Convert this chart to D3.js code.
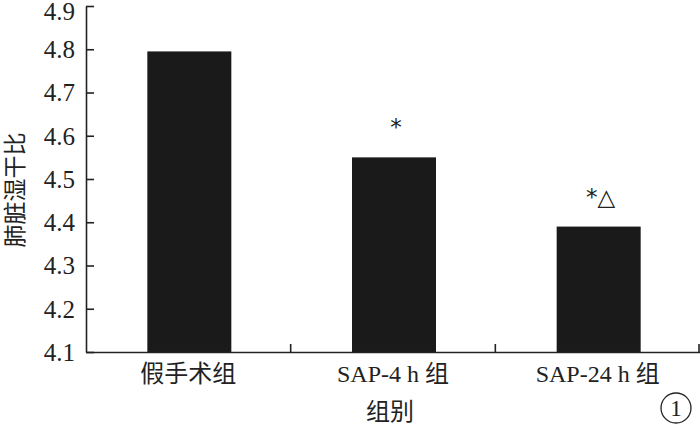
<!DOCTYPE html>
<html><head><meta charset="utf-8">
<script src="https://cdn.jsdelivr.net/npm/d3@7"></script>
<style>body{margin:0;background:#fff}svg{display:block}</style>
</head><body>
<svg id="c" width="700" height="427"></svg>
<script>
const categories = ["假手术组", "SAP-4 h 组", "SAP-24 h 组"];
const values = [4.795, 4.55, 4.39];
const marks = ["", "*", "*△"];
const yTicks = [4.1, 4.2, 4.3, 4.4, 4.5, 4.6, 4.7, 4.8, 4.9];

const svg = d3.select("#c");
const font = "'Liberation Serif','Times New Roman','Noto Sans CJK SC',serif";
const x = d3.scaleBand().domain(categories).range([86, 700]).paddingInner(0).paddingOuter(0);
const y = d3.scaleLinear().domain([4.1, 4.9]).range([352, 6]);
const barW = 84;
const col = "#1a1a1a";

// bars
svg.selectAll("rect.bar").data(categories).enter().append("rect")
  .attr("x", d => x(d) + x.bandwidth()/2 - barW/2 + 1)
  .attr("width", barW)
  .attr("y", (d,i) => y(values[i]))
  .attr("height", (d,i) => y(4.1) - y(values[i]))
  .attr("fill", col);

// y axis
const yAxis = d3.axisLeft(y).tickValues(yTicks).tickFormat(d3.format(".1f")).tickSizeInner(-8).tickSizeOuter(0).tickPadding(11);
const gy = svg.append("g").attr("transform", "translate(86,0)").call(yAxis);
gy.select(".domain").attr("stroke", "#222").attr("stroke-width", 1.6);
gy.selectAll(".tick line").attr("stroke", "#222").attr("stroke-width", 1.6);
gy.selectAll(".tick text").attr("font-family", font).attr("font-size", 25).attr("fill", "#222")
  .attr("dy", d => d === 4.9 ? "0.52em" : "0.33em");

// x axis
const xAxis = d3.axisBottom(x).tickSize(0).tickPadding(12);
const gx = svg.append("g").attr("transform", "translate(0,352)").call(xAxis);
gx.select(".domain").attr("stroke", "#222").attr("stroke-width", 1.6);
gx.selectAll(".tick text").attr("font-family", font).attr("font-size", 24).attr("fill", "#222").attr("dy", "0.75em");
// boundary ticks between bands
const bounds = categories.slice(1).map(c => x(c)).concat([x.range()[1] - 1]);
svg.append("g").selectAll("line").data(bounds).enter().append("line")
  .attr("x1", d => d).attr("x2", d => d).attr("y1", 352).attr("y2", 344)
  .attr("stroke", "#222").attr("stroke-width", 1.6);

// significance marks
svg.append("g").selectAll("text").data(categories).enter().append("text")
  .attr("x", d => x(d) + x.bandwidth()/2 + 3)
  .attr("y", (d,i) => y(values[i]) - 22)
  .attr("text-anchor", "middle")
  .attr("font-family", "'DejaVu Sans',sans-serif").attr("font-size", 23).attr("fill", "#222")
  .text((d,i) => marks[i]);

// axis titles
svg.append("text").attr("transform", "translate(23,190) rotate(-90)")
  .attr("text-anchor", "middle").attr("font-family", font).attr("font-size", 23).attr("fill", "#222")
  .text("肺脏湿干比");
svg.append("text").attr("x", 390).attr("y", 420).attr("text-anchor", "middle")
  .attr("font-family", font).attr("font-size", 24).attr("fill", "#222").text("组别");

// panel label
svg.append("circle").attr("cx", 676).attr("cy", 408).attr("r", 15).attr("fill", "none").attr("stroke", "#222").attr("stroke-width", 1.3);
svg.append("text").attr("x", 676).attr("y", 416).attr("text-anchor", "middle")
  .attr("font-family", font).attr("font-size", 23).attr("fill", "#222").text("1");
</script>
</body></html>
